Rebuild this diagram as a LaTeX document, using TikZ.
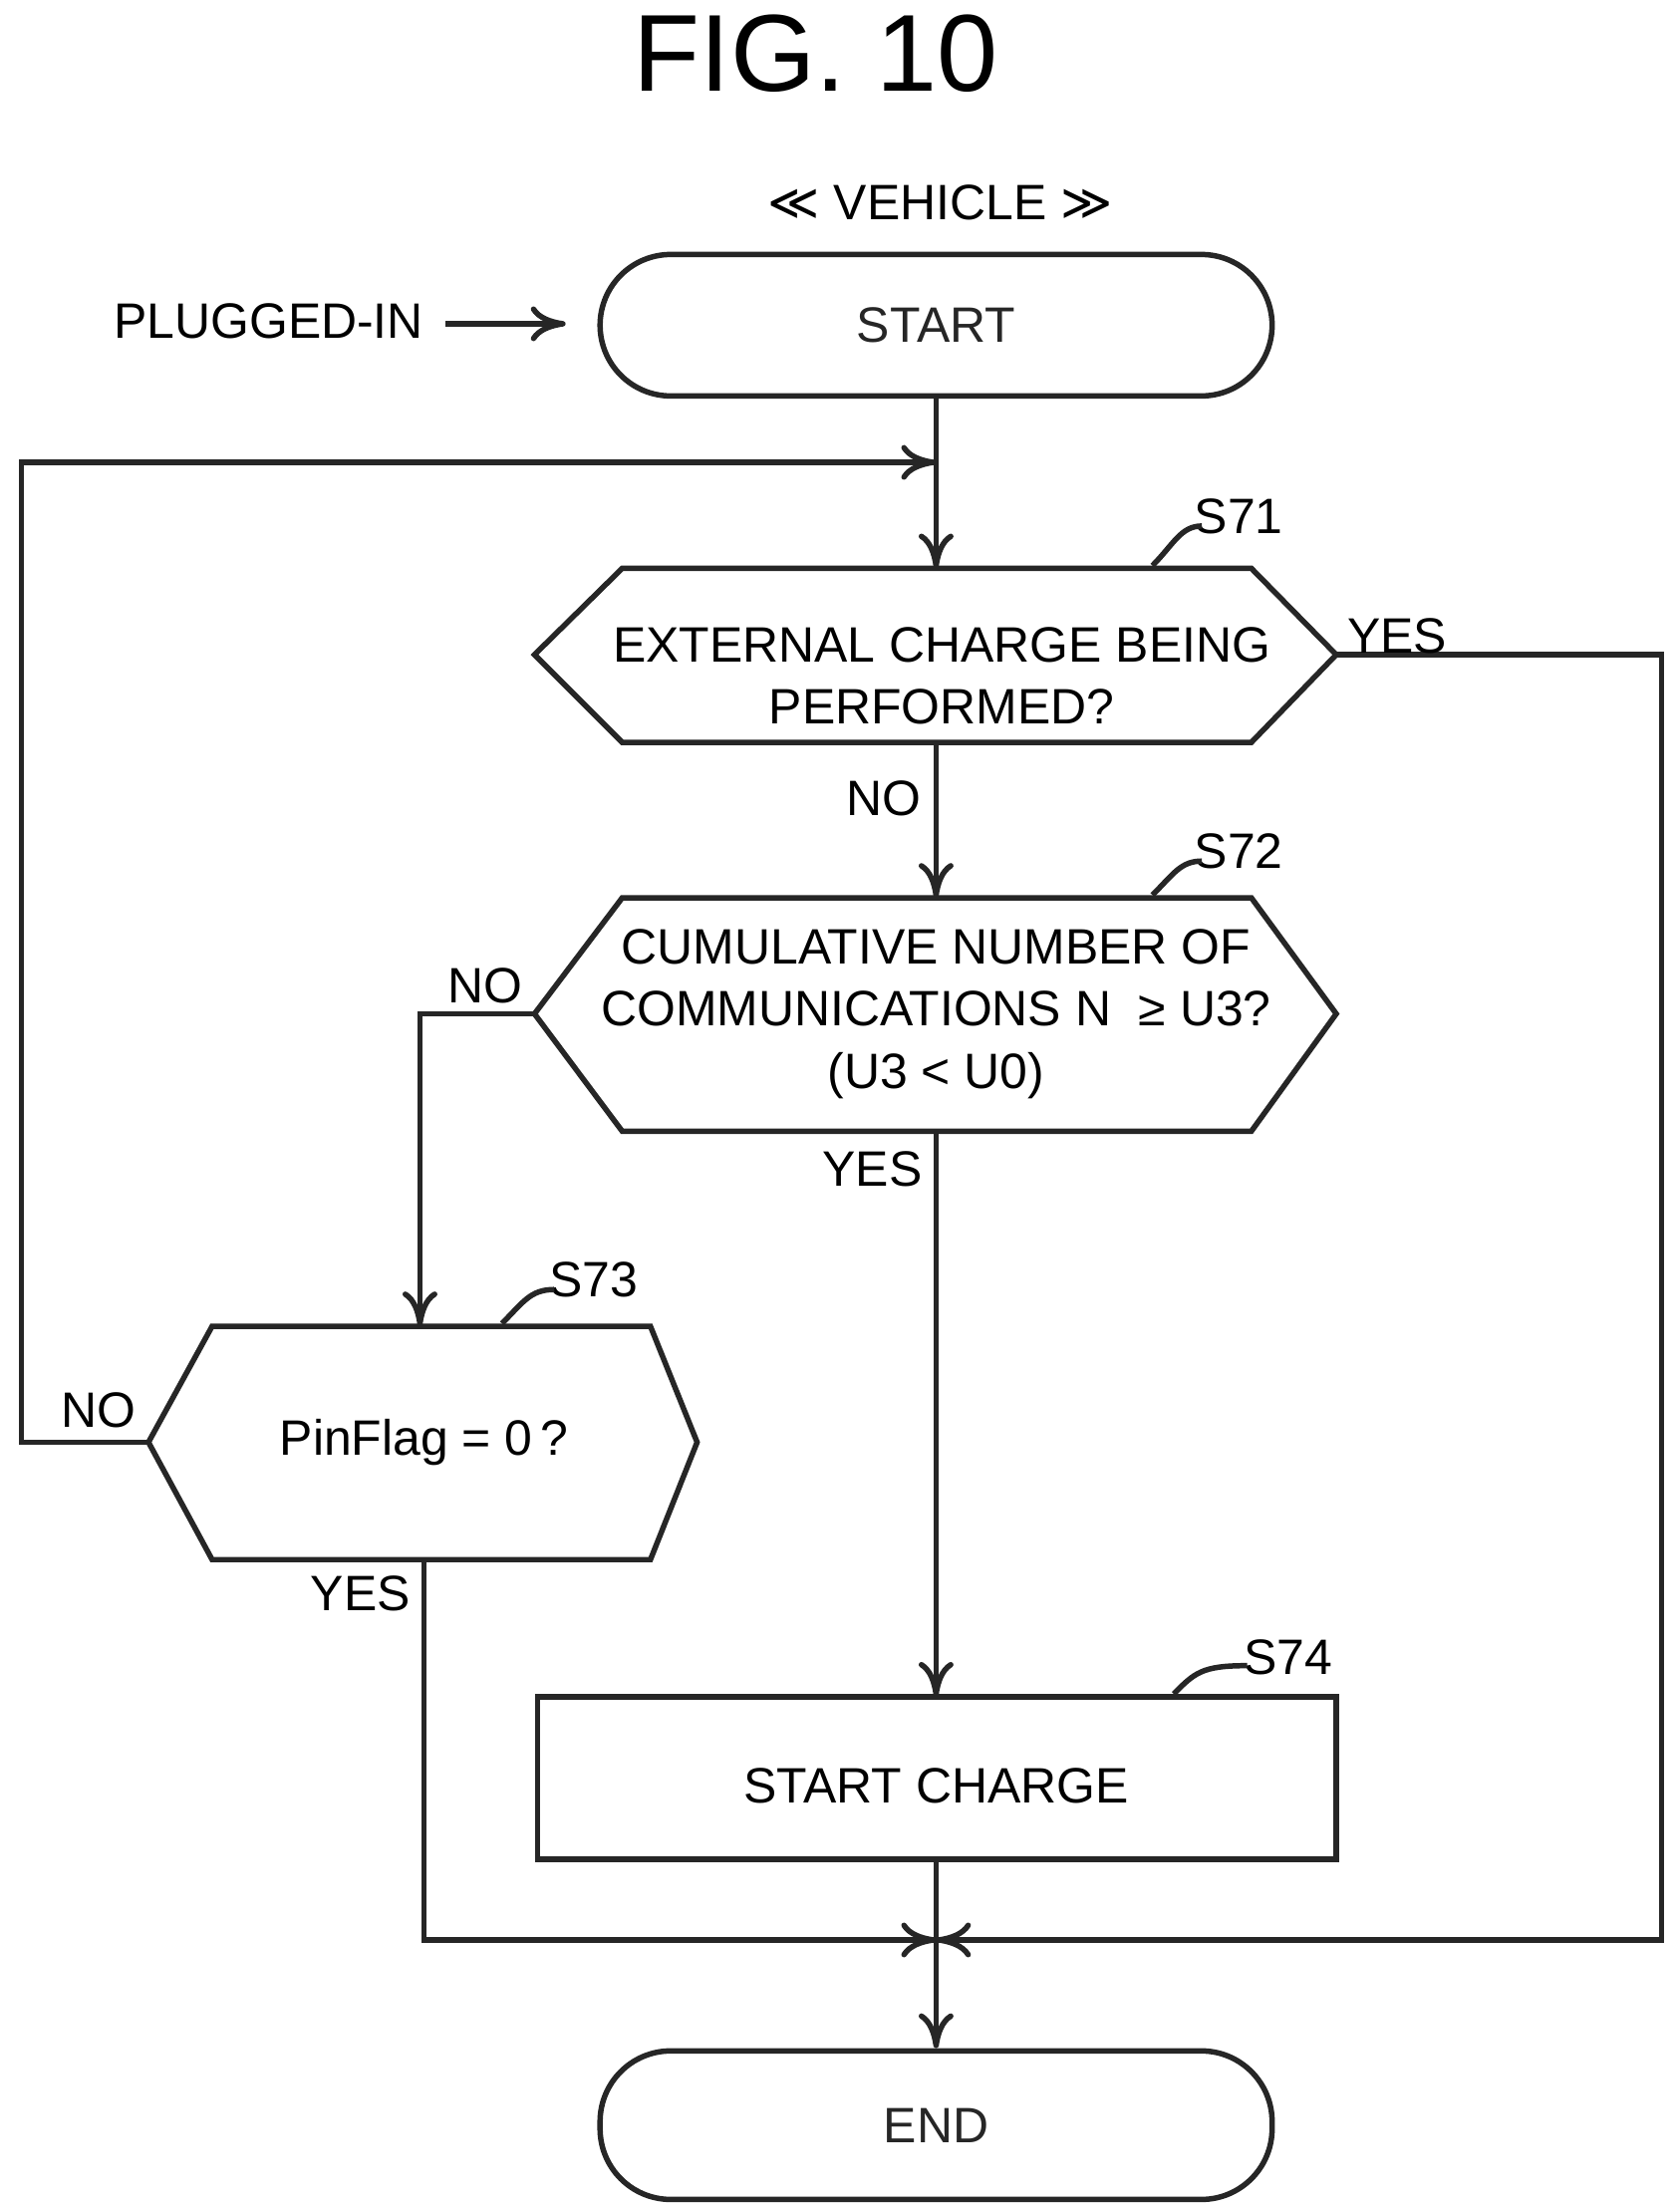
\documentclass[tikz,border=0pt]{standalone}
\usepackage{fontspec}
\setmainfont{Liberation Sans}
\newfontfamily\dejavu{DejaVu Sans}
\usetikzlibrary{arrows.meta}
\begin{document}
\begin{tikzpicture}[x=0.01cm,y=-0.01cm,
  ln/.style={line width=1.1pt,color=black!85},
  arr/.style={ln,-{To[length=7pt,width=7pt]}},
  txt/.style={font=\fontsize{10}{12.5}\selectfont,align=center,inner sep=0pt},
  term/.style={ln,draw,rounded corners=0.5cm,minimum width=4.75cm,minimum height=1cm,inner sep=0pt,font=\fontsize{10}{12}\selectfont}]
\useasboundingbox (0,0) rectangle (1188,1563);
\node[inner sep=0pt,font=\fontsize{22}{26}\selectfont] (title) at (577,38) {FIG. 10};
\node[txt] (veh) at (665,143) {{\dejavu ≪} VEHICLE {\dejavu ≫}};
% START
\node[term] (start) at (662,230) {START};
\node[txt] (plug) at (190,227) {PLUGGED-IN};
\coordinate (plugE) at (315,229);
\coordinate (startW) at (400,229);
\draw[arr] (plugE) -- (startW);
% S71
\coordinate (s71N) at (662,402); \coordinate (s71S) at (662,525);
\coordinate (s71E) at (945,463); \coordinate (s71W) at (378,463);
\draw[ln] (440,402) -- (885,402) -- (945,463) -- (885,525) -- (440,525) -- (378,463) -- cycle;
\node[txt] (s71) at (666,478) {EXTERNAL CHARGE BEING\\PERFORMED?};
\node[txt] (l71) at (876,365) {S71};
\draw[ln] (815,400) .. controls (830,385) and (835,372) .. (850,372);
% S72
\coordinate (s72N) at (662,635); \coordinate (s72S) at (662,800);
\coordinate (s72W) at (378,717);
\draw[ln] (440,635) -- (885,635) -- (945,717) -- (885,800) -- (440,800) -- (378,717) -- cycle;
\node[txt] (s72) at (662,717) {CUMULATIVE NUMBER OF\\COMMUNICATIONS N \ ≥ U3?\\(U3 < U0)};
\node[txt] (l72) at (876,602) {S72};
\draw[ln] (815,633) .. controls (830,618) and (835,609) .. (850,609);
% S73
\coordinate (s73N) at (297,938); \coordinate (s73S) at (300,1103);
\coordinate (s73W) at (105,1020);
\draw[ln] (150,938) -- (460,938) -- (493,1020) -- (460,1103) -- (150,1103) -- (105,1020) -- cycle;
\node[txt] (s73) at (300,1020) {PinFlag = 0\,?};
\node[txt] (l73) at (420,905) {S73};
\draw[ln] (355,936) .. controls (370,921) and (375,912) .. (392,912);
% S74
\draw[ln] (380,1200) rectangle (945,1315);
\node[txt] (s74) at (662,1263) {START CHARGE};
\coordinate (s74N) at (662,1200); \coordinate (s74S) at (662,1315);
\node[txt] (l74) at (911,1172) {S74};
\draw[ln] (830,1198) .. controls (845,1183) and (850,1178) .. (882,1178);
% END
\node[term,minimum height=1.05cm] (end) at (662,1503) {END};
% connectors
\coordinate (loopJ) at (662,327);
\coordinate (merge) at (662,1372);
\draw[arr] (start.south) -- (s71N);
\draw[arr] (s73W) -- (15,1020) -- (15,327) -- (loopJ);
\draw[arr] (s71S) -- (s72N);
\draw[arr] (s72S) -- (s74N);
\draw[arr] (s72W) -- (297,717) -- (s73N);
\draw[arr] (s71E) -- (1175,463) -- (1175,1372) -- (merge);
\draw[arr] (s73S) -- (300,1372) -- (merge);
\draw[arr] (s74S) -- (end.north);
\node[txt] at (988,450) {YES};
\node[txt] at (625,565) {NO};
\node[txt] at (343,697) {NO};
\node[txt] at (617,827) {YES};
\node[txt] at (70,997) {NO};
\node[txt] at (255,1127) {YES};
\end{tikzpicture}
\end{document}
